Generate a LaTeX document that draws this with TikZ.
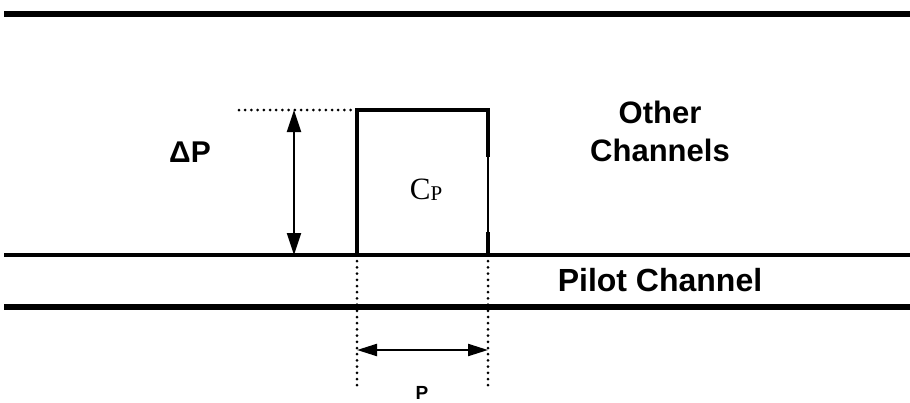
\documentclass[tikz,border=0pt]{standalone}
\usepackage{fontspec}
\setmainfont{Liberation Sans}
\newfontfamily\serifface{Liberation Serif}
\usetikzlibrary{arrows.meta}
\begin{document}
\begin{tikzpicture}[x=1pt,y=-1pt,
  thickline/.style={line width=5.5pt},
  midline/.style={line width=4pt},
  boxline/.style={line width=3.5pt},
  dotline/.style={line width=3pt,line cap=round,dash pattern=on 0pt off 6.2pt},
  dimarrow/.style={line width=2.2pt,{Triangle[length=22pt,width=14pt]}-{Triangle[length=22pt,width=14pt]}},
  label/.style={font=\fontsize{32}{38}\selectfont\bfseries,align=center}]
\useasboundingbox (0,0) rectangle (910,402);
% channel lines
\coordinate (t1) at (4,14); \coordinate (t2) at (910,14);
\coordinate (m1) at (4,255); \coordinate (m2) at (910,255);
\coordinate (b1) at (4,307); \coordinate (b2) at (910,307);
\draw[thickline] (t1) -- (t2);
\draw[midline] (m1) -- (m2);
\draw[thickline] (b1) -- (b2);
% box
\coordinate (bl) at (357,255); \coordinate (tl) at (357,110);
\coordinate (tr) at (488,110); \coordinate (br) at (488,255);
\coordinate (rg1) at (488,157); \coordinate (rg2) at (488,232);
\draw[boxline,line join=miter] (bl) -- (tl) -- (tr) -- (rg1);
\draw[line width=1.8pt] (rg1) -- (rg2);
\draw[boxline] (rg2) -- (br);
\node[font=\serifface\fontsize{31}{34}\selectfont] (cp) at (426,190) {C\raisebox{-1pt}{\fontsize{21}{23}\selectfont P}};
% delta P dimension
\coordinate (d1) at (239,110);
\draw[dotline] (d1) -- (tl);
\coordinate (va) at (294,110); \coordinate (vb) at (294,255);
\draw[dimarrow] (va) -- (vb);
\node[font=\fontsize{30}{34}\selectfont\bfseries] (dp) at (190,152) {ΔP};
% P dimension
\coordinate (pl) at (357,386); \coordinate (pr) at (488,386);
\draw[dotline] (bl) -- (pl);
\draw[dotline] (br) -- (pr);
\coordinate (ha) at (357,350); \coordinate (hb) at (488,350);
\draw[line width=2.2pt,{Triangle[length=20pt,width=12pt]}-{Triangle[length=20pt,width=12pt]}] (ha) -- (hb);
\node[font=\fontsize{19}{22}\selectfont\bfseries] (plab) at (422,393) {P};
% labels
\node[label,font=\fontsize{31}{38}\selectfont\bfseries] (oc) at (660,131) {Other\\Channels};
\node[label] (pc) at (660,280) {Pilot Channel};
\end{tikzpicture}
\end{document}
